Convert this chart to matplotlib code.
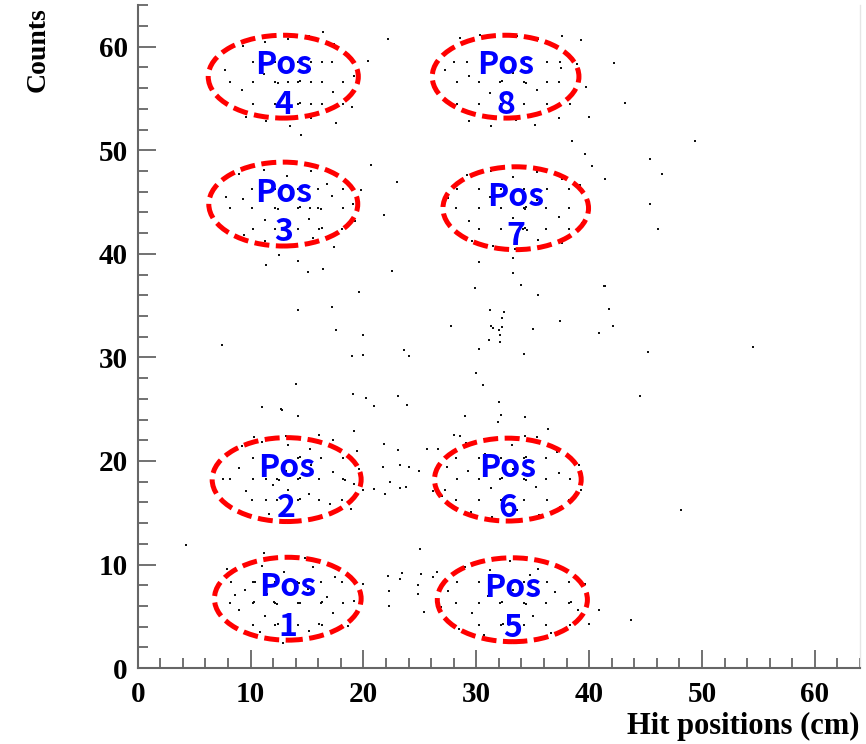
import numpy as np
import matplotlib
matplotlib.use("Agg")
import matplotlib.pyplot as plt
from matplotlib.patches import Ellipse
from matplotlib.ticker import MultipleLocator

plt.rcParams["font.family"] = ["Liberation Serif", "DejaVu Serif"]
plt.rcParams["font.weight"] = "bold"

# hit positions (x, y) grouped around each source position
pos1_hits = [
    (8.3, 8.3), (10.2, 8.3), (10.4, 8.3), (12.2, 8.3), (12.4, 8.4), (14.1, 8.3), (14.3, 8.2), (16.2, 8.3), (18.1, 8.3),
    (8.2, 6.3), (10.2, 6.3), (10.3, 6.4), (12.2, 6.3), (12.3, 6.2), (12.1, 6.4), (14.2, 6.3), (14.4, 6.3),
    (16.2, 6.3), (16.3, 6.4), (18.2, 6.3),
    (10.2, 4.2), (12.2, 4.2), (12.4, 4.3), (14.2, 4.2), (16.3, 4.2), (16.1, 4.3),
    (7.9, 9.6), (9.5, 7.5), (11.0, 9.9), (11.5, 7.2), (13.0, 9.3), (15.1, 7.6), (15.5, 9.8), (17.3, 5.3),
    (9.0, 5.6), (11.3, 5.0), (13.3, 3.4), (15.2, 3.6), (17.5, 8.8), (19.2, 6.5), (8.6, 7.1), (12.9, 2.4),
    (18.6, 4.1), (14.8, 10.6), (10.8, 3.5), (16.8, 6.9),
]
pos2_hits = [
    (10.2, 20.3), (12.2, 20.3), (14.2, 20.3), (14.4, 20.4), (16.2, 20.3), (18.2, 20.3),
    (8.2, 18.3), (10.2, 18.3), (11.4, 18.3), (12.3, 18.3), (12.5, 18.2), (14.2, 18.3), (14.4, 18.4),
    (16.1, 18.3), (18.2, 18.3), (18.4, 18.2),
    (10.1, 16.2), (11.4, 16.2), (12.3, 16.2), (14.2, 16.2), (14.4, 16.3), (16.1, 16.2), (18.1, 16.2),
    (9.2, 21.4), (11.0, 21.8), (13.3, 21.5), (15.3, 21.2), (17.3, 22.0), (9.0, 19.3), (11.1, 19.6),
    (13.1, 19.0), (15.4, 19.6), (17.3, 18.9), (19.2, 17.8), (9.6, 17.1), (13.3, 17.2), (15.2, 16.8),
    (17.0, 15.8), (11.6, 14.9), (13.6, 14.2), (16.2, 14.5), (19.3, 19.6), (7.6, 18.3), (18.9, 15.4),
    (12.0, 17.7), (10.3, 22.3), (13.1, 22.4),
]
pos3_hits = [
    (10.1, 46.3), (12.2, 46.3), (14.2, 46.3), (14.4, 46.2), (16.0, 46.3), (18.2, 46.3),
    (8.2, 44.4), (10.1, 44.4), (12.2, 44.4), (12.4, 44.3), (14.2, 44.4), (14.4, 44.5), (15.3, 44.4),
    (16.0, 44.4), (16.2, 44.3), (18.2, 44.4),
    (10.2, 42.4), (12.2, 42.4), (14.2, 42.4), (16.1, 42.4), (16.3, 42.5), (18.1, 42.4),
    (9.0, 47.7), (11.2, 48.1), (13.2, 47.5), (15.4, 48.0), (17.6, 47.6), (7.8, 45.5), (9.3, 45.3),
    (11.3, 43.3), (13.3, 45.3), (15.2, 43.4), (17.2, 45.6), (19.1, 44.8), (19.3, 43.2), (9.4, 41.8),
    (11.3, 41.2), (13.4, 40.8), (15.5, 41.5), (17.4, 40.7), (12.5, 39.9), (16.8, 46.7), (19.8, 46.2),
    (20.7, 48.6), (23.0, 46.9), (21.8, 43.7),
]
pos4_hits = [
    (10.2, 58.5), (11.0, 58.5), (12.2, 58.5), (14.2, 58.5), (15.4, 58.5), (16.3, 58.5), (17.2, 58.5),
    (8.2, 56.6), (10.2, 56.6), (12.2, 56.6), (12.4, 56.5), (13.3, 56.6), (14.2, 56.6), (14.4, 56.7),
    (15.4, 56.6), (16.3, 56.6), (18.2, 56.6),
    (10.2, 54.5), (12.2, 54.5), (14.2, 54.5), (14.4, 54.6), (15.4, 54.5), (16.3, 54.5), (18.2, 54.5),
    (9.3, 60.1), (11.3, 60.4), (13.3, 60.7), (15.2, 61.0), (16.4, 61.4), (17.4, 60.3), (7.7, 57.7),
    (9.2, 55.8), (11.2, 57.4), (13.2, 55.3), (15.3, 57.8), (17.3, 55.6), (19.2, 57.2), (19.0, 54.2),
    (9.6, 53.2), (11.4, 52.8), (13.5, 52.3), (15.4, 53.1), (17.6, 52.6), (14.5, 51.5), (20.4, 58.6),
    (22.2, 60.7),
]
pos5_hits = [
    (28.3, 8.3), (30.2, 8.3), (32.2, 8.3), (32.4, 8.4), (34.2, 8.3), (36.3, 8.3), (38.2, 8.3),
    (28.2, 6.3), (30.2, 6.3), (32.1, 6.3), (32.3, 6.4), (34.2, 6.3), (34.4, 6.2), (36.2, 6.3),
    (38.2, 6.3), (38.4, 6.4),
    (30.2, 4.2), (32.2, 4.2), (32.4, 4.3), (34.2, 4.2), (36.2, 4.2), (38.3, 4.2),
    (29.0, 9.8), (31.2, 9.5), (33.0, 10.3), (35.5, 9.6), (37.2, 9.9), (27.5, 7.4), (29.6, 5.3),
    (31.0, 7.0), (33.3, 7.5), (35.0, 5.0), (37.0, 7.3), (39.0, 5.6), (40.0, 4.3), (30.7, 3.2),
    (33.0, 2.6), (36.6, 3.4), (39.6, 8.1), (26.9, 5.9), (34.8, 9.0), (28.5, 3.8), (40.9, 5.6),
    (43.7, 4.6),
]
pos6_hits = [
    (28.2, 20.3), (30.2, 20.3), (32.2, 20.3), (34.2, 20.3), (34.4, 20.4), (36.2, 20.3),
    (28.3, 18.3), (30.2, 18.3), (32.1, 18.3), (32.3, 18.4), (34.2, 18.3), (34.4, 18.2), (36.2, 18.3),
    (38.3, 18.3),
    (28.2, 16.2), (30.2, 16.2), (32.2, 16.2), (32.4, 16.3), (34.2, 16.2), (36.3, 16.2), (38.2, 16.2),
    (29.1, 21.7), (31.0, 22.1), (33.2, 21.5), (35.4, 21.8), (37.2, 20.9), (27.4, 19.4), (29.3, 19.0),
    (31.3, 17.4), (33.3, 19.2), (35.3, 17.5), (37.3, 18.8), (39.1, 19.6), (39.3, 17.2), (29.5, 15.1),
    (31.4, 14.6), (33.6, 15.3), (35.6, 14.8), (37.4, 15.6), (27.0, 16.6), (30.8, 20.7), (48.1, 15.3),
    (28.0, 22.5), (28.6, 22.4), (34.3, 22.4), (35.4, 22.3),
]
pos7_hits = [
    (28.3, 46.3), (30.2, 46.3), (32.2, 46.3), (34.2, 46.3), (36.3, 46.3), (38.2, 46.3),
    (28.2, 44.4), (30.2, 44.4), (32.2, 44.4), (34.2, 44.4), (34.4, 44.5), (34.3, 44.3), (36.2, 44.4),
    (38.2, 44.4), (40.0, 44.4),
    (30.2, 42.4), (32.2, 42.4), (34.1, 42.4), (34.3, 42.5), (34.5, 42.3), (36.2, 42.4), (38.2, 42.4),
    (29.2, 47.6), (31.3, 48.0), (33.3, 47.4), (35.4, 47.9), (37.6, 47.2), (39.2, 46.6), (27.5, 45.4),
    (29.4, 43.2), (31.2, 45.5), (33.3, 43.5), (35.4, 45.2), (37.3, 43.6), (39.4, 43.0), (29.6, 41.2),
    (31.5, 40.8), (33.4, 40.5), (35.5, 41.3), (37.6, 41.0), (40.3, 48.5), (39.6, 49.6), (38.5, 50.9),
    (41.4, 47.2),
]
pos8_hits = [
    (28.0, 58.5), (29.2, 58.5), (32.3, 58.5), (34.2, 58.5), (36.3, 58.5), (37.4, 58.5),
    (28.3, 56.6), (30.2, 56.6), (32.1, 56.6), (32.3, 56.7), (34.2, 56.6), (34.4, 56.5), (36.3, 56.6),
    (37.3, 56.6),
    (28.3, 54.5), (30.2, 54.5), (32.2, 54.5), (34.2, 54.5), (36.3, 54.5), (38.3, 54.5),
    (28.6, 60.8), (30.3, 61.1), (31.6, 60.9), (33.6, 61.0), (35.5, 60.7), (37.6, 61.0), (39.3, 60.6),
    (27.2, 57.7), (29.4, 57.2), (31.2, 55.5), (33.3, 57.5), (35.4, 55.8), (37.5, 57.9), (38.9, 58.3),
    (39.7, 56.1), (29.4, 52.8), (31.3, 52.3), (33.5, 52.9), (35.2, 52.4), (37.3, 53.1), (42.2, 58.4),
    (43.2, 54.6), (40.0, 53.2),
]
# stray hits between the positions
stray_hits = [
    (49.4, 50.9), (45.4, 49.2), (46.5, 47.7), (45.4, 44.8), (46.1, 42.4), (41.4, 36.9), (41.8, 34.7),
    (42.1, 33.0), (40.9, 32.4), (54.5, 31.0), (44.5, 26.3), (45.2, 30.5),
    (14.2, 39.3), (15.1, 38.2), (16.4, 38.5), (22.5, 38.3), (19.6, 36.3), (17.2, 34.9), (14.2, 34.6),
    (17.6, 32.6), (20.0, 32.2), (19.0, 30.1), (20.0, 30.2), (23.6, 30.7), (24.0, 30.1), (14.0, 27.4),
    (19.1, 26.5), (20.2, 26.1), (20.9, 25.3), (23.1, 26.3), (23.9, 25.4), (12.8, 24.9), (14.2, 24.3),
    (19.2, 22.9), (16.1, 22.5),
    (30.2, 39.2), (33.3, 39.6), (33.3, 38.1), (34.0, 37.0), (29.9, 36.7), (35.5, 36.0), (41.3, 36.9),
    (31.2, 34.6), (32.5, 34.4), (32.3, 33.8), (31.3, 33.0), (31.5, 32.8), (32.3, 32.9), (32.0, 32.6),
    (32.1, 32.2), (32.1, 31.5), (31.1, 31.7), (27.8, 33.0), (35.0, 32.7), (37.4, 33.5), (40.9, 32.4),
    (30.2, 30.8), (34.2, 30.3), (30.0, 28.5), (30.6, 27.3), (32.0, 25.7), (32.2, 24.4), (31.9, 23.8),
    (29.0, 24.3), (34.3, 24.2), (36.4, 23.1),
    (11.4, 38.9), (7.5, 31.2), (11.0, 25.2), (12.7, 25.0), (4.3, 11.9), (11.2, 11.1),
    (21.8, 21.6), (23.1, 21.1), (25.6, 21.2), (26.6, 21.2), (19.4, 21.0), (21.7, 19.4), (23.2, 19.6),
    (24.0, 19.4), (24.9, 19.0), (19.6, 19.2), (22.4, 18.0), (23.2, 17.4), (23.8, 17.5), (20.9, 17.3),
    (20.0, 17.2), (21.9, 16.8), (26.2, 17.1), (27.2, 17.2),
    (25.0, 11.5), (22.2, 8.9), (23.4, 9.2), (23.2, 8.6), (25.1, 9.1), (26.5, 9.3), (26.2, 8.8),
    (20.0, 8.1), (22.3, 7.4), (24.8, 8.0), (24.8, 7.2), (22.3, 6.0), (25.4, 5.4),
]

# source positions: label, ellipse centre and size
pos_labels = ["1", "2", "3", "4", "5", "6", "7", "8"]
pos_x = [13.3, 13.2, 12.9, 12.9, 33.2, 32.8, 33.5, 32.6]
pos_y = [6.7, 18.2, 44.8, 57.1, 6.6, 18.2, 44.4, 57.1]
pos_w = [13.0, 13.2, 13.2, 13.3, 13.3, 13.0, 12.9, 13.0]
pos_h = [8.0, 8.1, 8.1, 8.0, 8.1, 8.0, 8.0, 8.0]

hits = np.array(pos1_hits + pos2_hits + pos3_hits + pos4_hits + pos5_hits
                + pos6_hits + pos7_hits + pos8_hits + stray_hits)

fig = plt.figure(figsize=(8.66, 7.44), dpi=100)
ax = fig.add_axes([0.159, 0.102, 0.834, 0.891])

ax.scatter(hits[:, 0], hits[:, 1], s=4, marker="s", color="#111111", linewidths=0, zorder=2)

for lab, cx, cy, w, h in zip(pos_labels, pos_x, pos_y, pos_w, pos_h):
    ax.add_patch(Ellipse((cx, cy), w, h, fill=False, edgecolor="#ff0000", linewidth=3.6,
                         linestyle=(0, (3.0, 1.3)), zorder=3))
    ax.text(cx, cy - 0.8, "Pos\n" + lab, color="#0000ff", fontsize=23, fontweight="bold",
            family=["Noto Sans CJK KR", "DejaVu Sans"], ha="center", va="center",
            linespacing=1.3, zorder=4)

ax.set_xlim(0, 64)
ax.set_ylim(0, 64)
ax.xaxis.set_major_locator(MultipleLocator(10))
ax.xaxis.set_minor_locator(MultipleLocator(2))
ax.yaxis.set_major_locator(MultipleLocator(10))
ax.yaxis.set_minor_locator(MultipleLocator(2))
ax.tick_params(which="both", direction="in", color="#666666", width=1.3, labelsize=21)
ax.tick_params(which="major", length=13)
ax.tick_params(which="minor", length=7)
ax.tick_params(axis="x", pad=9)
ax.tick_params(axis="y", pad=7)

for side in ["left", "bottom"]:
    ax.spines[side].set_color("#666666")
    ax.spines[side].set_linewidth(1.5)
ax.spines["top"].set_visible(False)
ax.spines["right"].set_color("#e6e6e6")
ax.spines["right"].set_linewidth(1.0)

fig.text(0.993, 0.013, "Hit positions (cm)", ha="right", va="baseline",
         fontweight="bold", fontsize=22)
fig.text(0.044, 0.99, "Counts", ha="center", va="top", rotation=90,
         fontweight="bold", fontsize=20)

fig.savefig("out.png", dpi=100, facecolor="white")
